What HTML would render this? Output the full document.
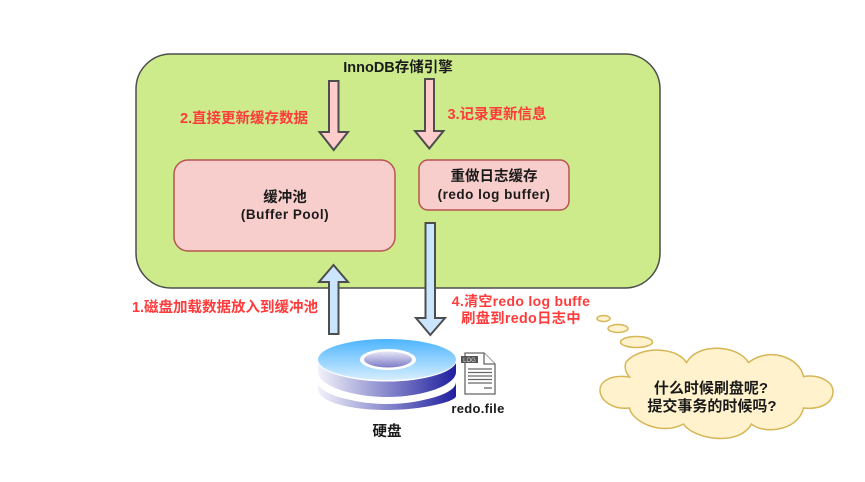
<!DOCTYPE html>
<html><head><meta charset="utf-8"><style>
html,body{margin:0;padding:0;background:#fff;width:865px;height:482px;overflow:hidden}
svg{display:block;filter:blur(.35px)}
text{font-family:"Liberation Sans","Noto Sans CJK SC",sans-serif;font-weight:bold;text-anchor:middle}
.k{fill:#1a1a1a;font-size:14.500px}
.r{fill:#ff3b3b;font-size:14.500px}
</style></head><body>
<svg width="865" height="482" viewBox="0 0 865 482" xmlns="http://www.w3.org/2000/svg">
<defs>
<linearGradient id="top" x1="0" y1="0" x2="0" y2="1"><stop offset="0" stop-color="#4db4ff"/><stop offset="1" stop-color="#d6eeff"/></linearGradient>
<linearGradient id="side" x1="0" y1="0" x2="1" y2="0"><stop offset="0" stop-color="#f2f2fa"/><stop offset="1" stop-color="#1f1f9f"/></linearGradient>
<linearGradient id="hole" x1="0" y1="0" x2="0" y2="1"><stop offset="0" stop-color="#e6e6f6"/><stop offset="1" stop-color="#7c7cc6"/></linearGradient>
</defs>
<rect x="136" y="54" width="524" height="234" rx="35" fill="#cdeb8b" stroke="#4d4d4d" stroke-width="1.500"/>
<rect x="174" y="160" width="221" height="91" rx="14" fill="#f8cecc" stroke="#b85450" stroke-width="1.500"/>
<rect x="419" y="160" width="150" height="50" rx="9" fill="#f8cecc" stroke="#b85450" stroke-width="1.500"/>
<g stroke="#4d4d4d" stroke-width="2" stroke-linejoin="miter">
<polygon points="329,81 338.500,81 338.500,132 348,132 333.700,150 319.500,132 329,132" fill="#ffcccc"/>
<polygon points="425,79 434,79 434,131 443.500,131 429.300,148.500 415,131 425,131" fill="#ffcccc"/>
<polygon points="333.500,265 348,282 338.500,282 338.500,334 329,334 329,282 319,282" fill="#cce5ff"/>
<polygon points="425.500,223 435,223 435,318 445,318 430.300,335 416,318 425.500,318" fill="#cce5ff"/>
</g>
<text class="k" x="398" y="72">InnoDB存储引擎</text>
<text class="r" x="244" y="123">2.直接更新缓存数据</text>
<text class="r" x="497" y="119">3.记录更新信息</text>
<text class="k" x="285" y="202">缓冲池</text>
<text class="k" x="285" y="219" style="font-size:13.500px;letter-spacing:.5px">(Buffer Pool)</text>
<text class="k" x="494" y="181">重做日志缓存</text>
<text class="k" x="494" y="199" style="font-size:13.500px;letter-spacing:.5px">(redo log buffer)</text>
<text class="r" x="225" y="312">1.磁盘加载数据放入到缓冲池</text>
<text class="r" x="521" y="306" style="font-size:14px;letter-spacing:.3px">4.清空redo log buffe</text>
<text class="r" x="521" y="323" style="font-size:14.300px;letter-spacing:.3px">刷盘到redo日志中</text>
<!-- disk -->
<path d="M318 382 A69 21 0 0 0 456 382 V396 C456 402 420 410 387 410 C350 410 318 402 318 389Z" fill="url(#side)"/>
<path d="M318 376 C325 393 350 403 387 403 C424 403 450 393 456 376" fill="none" stroke="#fff" stroke-width="2"/>
<path d="M318 360 V372 C318 385 350 397 387 397 C424 397 456 385 456 372 V360Z" fill="url(#side)"/>
<ellipse cx="387" cy="359.500" rx="70" ry="22" fill="#fff"/>
<ellipse cx="387" cy="359.500" rx="69" ry="20.500" fill="url(#top)"/>
<ellipse cx="388" cy="359.500" rx="28" ry="10.500" fill="#fff"/>
<ellipse cx="388" cy="359.500" rx="24" ry="8" fill="url(#hole)"/>
<!-- log file -->
<path d="M465 353 H484 L495 364 V394 H465Z" fill="#fff" stroke="#666" stroke-width="1.300"/>
<path d="M484 353 V364 H495" fill="#fff" stroke="#666" stroke-width="1.300"/>
<rect x="461" y="356" width="17" height="7" fill="#555"/>
<text x="469.500" y="362" style="font-size:6px;fill:#ddd;font-weight:normal">LOG</text>
<path d="M468 369 H492 M468 372.500 H492 M468 376 H492 M468 379.500 H492 M468 383 H492" stroke="#666" stroke-width="1.300"/>
<path d="M484 388 H492" stroke="#666" stroke-width="1.300"/>
<text class="k" x="478" y="413" style="font-size:13px;letter-spacing:.3px">redo.file</text>
<text class="k" x="387" y="436">硬盘</text>
<!-- cloud -->
<g fill="#fff2cc" stroke="#d6b656" stroke-width="1.500">
<ellipse cx="603.500" cy="318.500" rx="6.500" ry="3"/>
<ellipse cx="618" cy="328.500" rx="10" ry="4"/>
<ellipse cx="636.500" cy="342" rx="16" ry="5.500"/>
<path d="M629.500 377 C610 374 600 382 600 390 C600 400 612 410 629.500 408 C632 422 662 436 683.500 424 C692 438 738 448 751.500 424 C762 434 798 432 803.500 408 C822 410 833 402 833 391.500 C833 382 820 374 803.500 376.500 C800 358 770 346 748.500 362.500 C738 345 698 342 686.500 362.500 C676 346 640 346 626 362 C624 368 626 373 629.500 377Z"/>
</g>
<text class="k" x="711" y="393" style="font-size:15px">什么时候刷盘呢?</text>
<text class="k" x="712" y="411" style="font-size:15px">提交事务的时候吗?</text>
</svg>
</body></html>
